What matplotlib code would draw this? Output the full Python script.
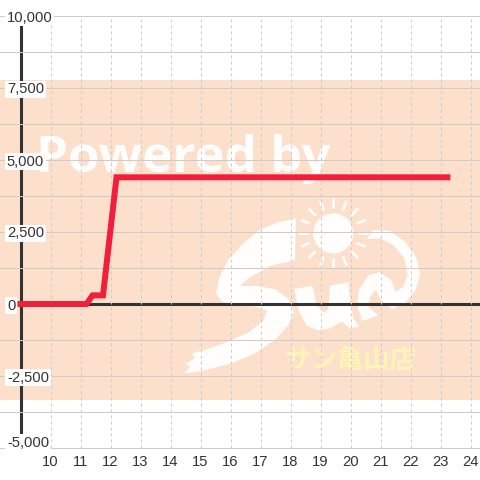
import numpy as np
from matplotlib import pyplot as plt
from matplotlib.patches import Circle, Polygon, Rectangle
from matplotlib.transforms import ScaledTranslation

hours = [8.9, 11.2, 11.4, 11.75, 12.2, 23.33]
amount = [0, 0, 300, 300, 4400, 4400]
x_ticks = list(range(10, 25))
y_ticks = [-5000, -2500, 0, 2500, 5000, 7500, 10000]
y_minor = [-3750, -1250, 1250, 3750, 6250, 8750]
y_labels = ['-5,000', '-2,500', '0', '2,500', '5,000', '7,500', '10,000']

TEXT = '#333333'
GRID = '#cccccc'
PEACH = '#fde0cc'

plt.rcParams['font.family'] = ['Liberation Sans', 'Noto Sans CJK JP', 'DejaVu Sans']

fig = plt.figure(figsize=(4.8, 4.8), dpi=100, facecolor='white')

# background layer in pixel coordinates: the band and the watermark logo
bg = fig.add_axes([0, 0, 1, 1], zorder=0)
bg.set_xlim(0, 480)
bg.set_ylim(480, 0)
bg.axis('off')
bg.add_patch(Rectangle((0, 80), 480, 320, color=PEACH, lw=0))
bg.text(36, 172, 'Powered by', color='#fffefc', fontsize=36.7, family='Open Sans',
        fontweight='bold', ha='left', va='baseline')


def logo(points, origin):
    pts = np.array(points, dtype=float) / 3 + origin
    bg.add_patch(Polygon(pts, closed=True, color='#fffefc', lw=0))


# S
logo([(348, 85), (290, 98), (240, 120), (190, 160), (145, 210), (118, 262), (108, 310),
      (125, 335), (170, 347), (225, 350), (262, 362), (250, 392), (205, 428), (130, 460),
      (75, 480), (35, 490), (45, 505), (18, 520), (30, 530), (15, 550), (80, 540),
      (160, 518), (225, 490), (285, 450), (325, 405), (342, 365), (325, 325), (285, 298),
      (235, 288), (180, 288), (205, 265), (270, 228), (345, 210)], (180, 190))
# u
logo([(28, 282), (82, 272), (95, 330), (115, 352), (130, 345), (135, 272), (190, 262),
      (195, 320), (205, 370), (222, 395), (195, 400), (170, 380), (135, 400), (100, 406),
      (65, 392), (42, 350)], (285, 195))
# n and tail
logo([(232, 378), (216, 330), (222, 285), (250, 240), (285, 232), (318, 255), (332, 290),
      (355, 275), (368, 240), (358, 190), (325, 150), (285, 130), (245, 132), (265, 105),
      (315, 108), (360, 140), (395, 190), (405, 240), (392, 285), (360, 325), (322, 342),
      (290, 320), (272, 285), (255, 305), (250, 335), (280, 362)], (285, 195))
# sun
sun_c = np.array([145, 115]) / 3 + [285, 195]
bg.add_patch(Circle(sun_c, 20, color='#fffefc', lw=0))
for a in np.arange(0, 360, 22.5):
    d = np.array([np.cos(np.radians(a)), np.sin(np.radians(a))])
    bg.plot(*zip(sun_c + d * 26, sun_c + d * 34), color='#fffefc', lw=2, solid_capstyle='round')

bg.text(350, 361, 'サン亀山店', color='#fdf5b8', fontsize=19, fontweight='bold',
        ha='center', va='center', family=['Noto Sans CJK JP', 'DejaVu Sans'])

# chart layer, 16px to 448px tall, 30px per hour with the 10 o'clock tick at x=50.5
ax = fig.add_axes([0, 32 / 480, 1, 432 / 480], zorder=1)
ax.patch.set_visible(False)
ax.set_xlim(10 - 50.5 / 30, 10 + (480 - 50.5) / 30)
ax.set_ylim(-5000, 10000)
for s in ax.spines.values():
    s.set_visible(False)

ax.set_xticks(x_ticks)
ax.set_yticks(y_ticks, labels=y_labels)
ax.set_yticks(y_minor, minor=True)
ax.tick_params(axis='both', which='both', length=0, labelsize=10.6, labelcolor=TEXT)
ax.tick_params(axis='x', pad=5)
ax.tick_params(axis='y', pad=-5)
ax.grid(axis='x', color=GRID, lw=0.72, ls=(0, (3, 3)))
ax.grid(axis='y', which='both', color=GRID, lw=0.72)
for g in ax.yaxis.get_gridlines():
    g.set_clip_on(False)
ax.yaxis.get_gridlines()[y_ticks.index(0)].set_visible(False)
for lab in ax.get_yticklabels():
    lab.set_ha('left')
    lab.set_bbox(dict(facecolor='white', edgecolor='none', pad=1.2))

# the bottom label sits a little above its tick so it clears the x labels
low = ax.get_yticklabels()[0]
low.set_transform(low.get_transform() + ScaledTranslation(0, 6.5 / 100, fig.dpi_scale_trans))

ax.axvline(9, color=TEXT, lw=2.2, zorder=0.3)
ax.axhline(0, color=TEXT, lw=2.2, zorder=0.3, xmin=9.0 / 480 + 0.02)
ax.set_axisbelow(True)

ax.plot(hours, amount, color='#f0203a', lw=4.3, solid_joinstyle='miter',
        solid_capstyle='butt', zorder=3)

fig.savefig('out.png', dpi=100)
